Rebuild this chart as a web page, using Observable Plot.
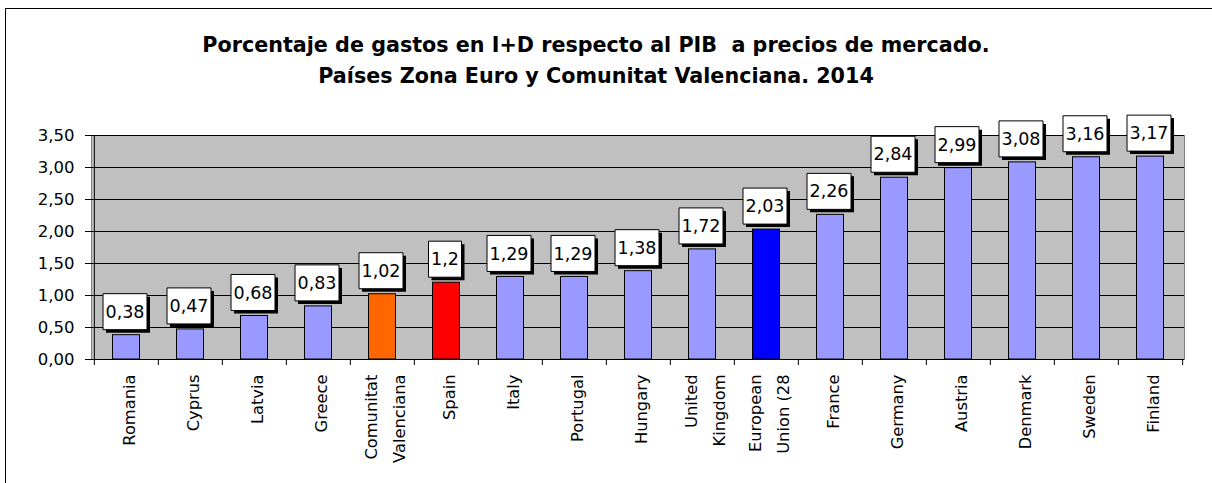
<!DOCTYPE html>
<html>
<head>
<meta charset="utf-8">
<script src="https://cdn.jsdelivr.net/npm/d3@7"></script>
<script src="https://cdn.jsdelivr.net/npm/@observablehq/plot@0.6"></script>
<style>
  html, body { margin: 0; padding: 0; background: #fff; overflow: hidden; }
  #wrap { position: relative; width: 1212px; height: 483px; }
  #border { position: absolute; left: 5px; top: 8px; width: 1300px; height: 600px; border: 1.5px solid #000; box-sizing: border-box; }
  #title { position: absolute; left: 0; top: 30px; width: 1192px; text-align: center; font-family: "DejaVu Sans", sans-serif; font-weight: bold; line-height: 31px; color: #000; white-space: pre; }
  #chart { position: absolute; left: 0; top: 0; }
</style>
</head>
<body>
<div id="wrap">
  <div id="border"></div>
  <div id="chart"></div>
  <div id="title"></div>
</div>
<script>
const titleLines = [
  "Porcentaje de gastos en I+D respecto al PIB  a precios de mercado.",
  "Países Zona Euro y Comunitat Valenciana. 2014"
];
const categories = ["Romania","Cyprus","Latvia","Greece","Comunitat Valenciana","Spain","Italy","Portugal","Hungary","United Kingdom","European Union (28","France","Germany","Austria","Denmark","Sweden","Finland"];
const axisLabels = ["Romania","Cyprus","Latvia","Greece","Comunitat\nValenciana","Spain","Italy","Portugal","Hungary","United\nKingdom","European\nUnion (28","France","Germany","Austria","Denmark","Sweden","Finland"];
const values = [0.38,0.47,0.68,0.83,1.02,1.2,1.29,1.29,1.38,1.72,2.03,2.26,2.84,2.99,3.08,3.16,3.17];
const valueLabels = ["0,38","0,47","0,68","0,83","1,02","1,2","1,29","1,29","1,38","1,72","2,03","2,26","2,84","2,99","3,08","3,16","3,17"];
const yTicks = [0,0.5,1,1.5,2,2.5,3,3.5];

// styles
const baseColor = "#9999FF";
const highlight = {"Comunitat Valenciana": "#FF6600", "Spain": "#FF0000", "European Union (28": "#0000FF"};

const data = categories.map((c, i) => ({name: c, axis: axisLabels[i], value: values[i], label: valueLabels[i]}));

// title: fit first line to the reference width
const titleEl = document.getElementById("title");
const cvs = document.createElement("canvas").getContext("2d");
cvs.font = "bold 100px 'DejaVu Sans'";
const w100 = cvs.measureText(titleLines[0]).width;
const tSize = 100 * 788 / w100;
titleEl.style.fontSize = tSize.toFixed(2) + "px";
titleEl.textContent = titleLines.join("\n");

const W = 1212, H = 483;
const mL = 91, mR = 28, mT = 135, mB = 124;
const bw = (W - mL - mR) / categories.length;

function boxSymbol(w, h) {
  return {draw(ctx) { ctx.moveTo(-w/2, -h/2); ctx.lineTo(w/2, -h/2); ctx.lineTo(w/2, h/2); ctx.lineTo(-w/2, h/2); ctx.closePath(); }};
}
const wide = boxSymbol(44, 36), narrow = boxSymbol(33, 36);
const isWide = d => d.label.length > 3;
const isNarrow = d => d.label.length <= 3;
const font = "DejaVu Sans";

const chart = Plot.plot({
  width: W, height: H,
  marginLeft: mL, marginRight: mR, marginTop: mT, marginBottom: mB,
  style: {fontFamily: font, background: "transparent", overflow: "visible"},
  x: {domain: categories, padding: 0, axis: null},
  y: {domain: [0, 3.5]},
  marks: [
    Plot.frame({fill: "#C0C0C0", stroke: "#808080"}),
    Plot.gridY(yTicks, {stroke: "#000", strokeOpacity: 1, strokeWidth: 1}),
    Plot.axisY(yTicks, {tickFormat: d => d.toFixed(2).replace(".", ","), tickSize: 6, tickPadding: 11, fontSize: 16.5, fill: "#000", stroke: "#000", label: null}),
    Plot.ruleY([0], {stroke: "#000"}),
    Plot.ruleX([categories[0]], {dx: -bw/2, y1: 0, y2: 3.5, stroke: "#000"}),
    Plot.ruleX(categories, {dx: -bw/2, y1: 0, y2: 0, insetBottom: -6, stroke: "#000"}),
    Plot.ruleX([categories[categories.length-1]], {dx: bw/2, y1: 0, y2: 0, insetBottom: -6, stroke: "#000"}),
    Plot.barY(data, {x: "name", y: "value", fill: d => highlight[d.name] || baseColor, stroke: "#000", strokeWidth: 1, insetLeft: 18.5, insetRight: 18.5}),
    Plot.dot(data.filter(isWide), {x: "name", y: "value", symbol: wide, fill: "#000", stroke: "none", dx: 1.5, dy: -20.5}),
    Plot.dot(data.filter(isNarrow), {x: "name", y: "value", symbol: narrow, fill: "#000", stroke: "none", dx: 1.5, dy: -20.5}),
    Plot.dot(data.filter(isWide), {x: "name", y: "value", symbol: wide, fill: "#fff", stroke: "#000", strokeWidth: 1, dx: -1.5, dy: -23.5}),
    Plot.dot(data.filter(isNarrow), {x: "name", y: "value", symbol: narrow, fill: "#fff", stroke: "#000", strokeWidth: 1, dx: -1.5, dy: -23.5}),
    Plot.text(data, {x: "name", y: "value", text: "label", dx: -1.5, dy: -23, fontSize: 17.5, fill: "#000"}),
    Plot.text(data, {x: "name", text: "axis", frameAnchor: "bottom", lineAnchor: "middle", dy: 15, rotate: -90, textAnchor: "end", lineHeight: 1.72, fontSize: 16.3, fill: "#000"})
  ]
});
document.getElementById("chart").appendChild(chart);
</script>
</body>
</html>
